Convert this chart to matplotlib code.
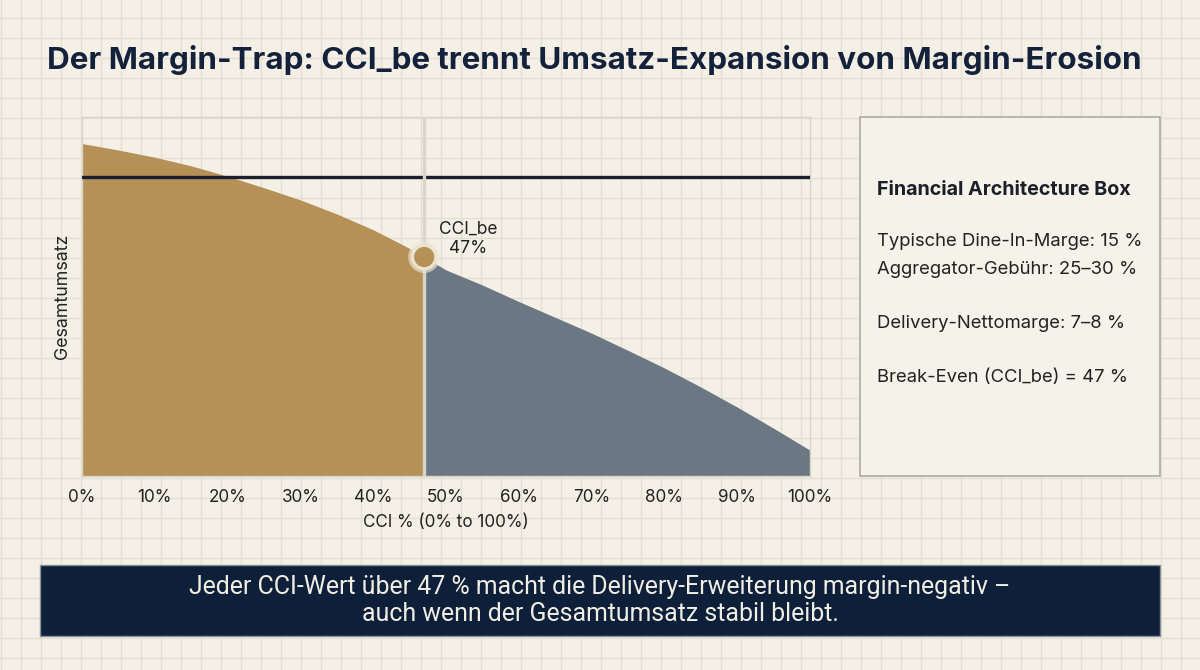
import matplotlib.pyplot as plt
import matplotlib.patches as mpatches
import matplotlib.patheffects as pe
import numpy as np

# data
cci = [0, 5, 10, 15, 20, 25, 30, 35, 40, 45, 47, 50, 55, 60, 65, 70, 75, 80, 85, 90, 95, 100]
umsatz = [92.6, 90.8, 88.8, 86.4, 83.5, 80.3, 76.9, 73.0, 68.6, 63.4, 61.0,
          57.4, 53.2, 48.6, 44.2, 39.8, 35.0, 30.1, 24.8, 19.2, 13.3, 7.2]
cci_be = 47
umsatz_ref = 83.3
x_ticks = [0, 10, 20, 30, 40, 50, 60, 70, 80, 90, 100]
x_tick_labels = [f"{t}%" for t in x_ticks]

box_title = "Financial Architecture Box"
box_lines = [
    ("Typische Dine-In-Marge: 15 %", 242),
    ("Aggregator-Gebühr: 25–30 %", 269),
    ("Delivery-Nettomarge: 7–8 %", 324),
    ("Break-Even (CCI_be) = 47 %", 377),
]
title = "Der Margin-Trap: CCI_be trennt Umsatz-Expansion von Margin-Erosion"
banner = ("Jeder CCI-Wert über 47 % macht die Delivery-Erweiterung margin-negativ –\n"
          "auch wenn der Gesamtumsatz stabil bleibt.")

BG = '#f4f0e6'
GRID = '#e4dfd2'
TAN = '#b59157'
GREY = '#6b7884'
NAVY = '#0e2039'
TXT = '#222222'
FONT = 'Inter'

W, H = 1200, 670
fig = plt.figure(figsize=(12, 6.7), dpi=100, facecolor=BG)

# background paper grid in pixel coordinates
bg = fig.add_axes([0, 0, 1, 1], zorder=0)
bg.set_xlim(0, W)
bg.set_ylim(H, 0)
bg.axis('off')
for gx in np.arange(0.5, W, 20):
    bg.axvline(gx, color=GRID, lw=1.0)
for gy in np.arange(-2, H, 20):
    bg.axhline(gy, color=GRID, lw=1.0)

# info box
bg.add_patch(mpatches.Rectangle((860, 117), 300, 359, facecolor='#f5f2e9',
                                edgecolor='#aeaba2', lw=1.2, zorder=2))
bg.text(877, 190, box_title, fontsize=14.2, fontweight='bold', color='#1b1f27',
        family=FONT, va='center', ha='left', zorder=3)
for txt, y in box_lines:
    bg.text(877, y, txt, fontsize=13.3, color=TXT, family=FONT,
            va='center', ha='left', zorder=3)

# bottom banner
bg.add_patch(mpatches.Rectangle((40, 565), 1120, 71, facecolor=NAVY,
                                edgecolor='#8a8f98', lw=1, zorder=2))
bg.text(600, 600.5, banner, fontsize=17.9, color='#f0ede4', ha='center', va='center',
        family='Roboto', linespacing=1.12, zorder=3)

# title
bg.text(594, 60, title, fontsize=22.6, fontweight='bold', color='#13213a',
        family=FONT, ha='center', va='center', zorder=3)

# main chart
ax = fig.add_axes([82 / W, (H - 476) / H, 728 / W, 359 / H], zorder=1)
ax.patch.set_alpha(0)
ax.set_xlim(0, 100)
ax.set_ylim(0, 100)

x = np.array(cci, dtype=float)
y = np.array(umsatz)
ax.fill_between(x, 0, y, where=x <= cci_be, color=TAN, lw=0, zorder=2)
ax.fill_between(x, 0, y, where=x >= cci_be, color=GREY, lw=0, zorder=2)
ax.axhline(umsatz_ref, color='#1a1f2b', lw=2.4, zorder=3)
ax.axvline(cci_be, color='#dad5ca', lw=2.4, zorder=4)
be_y = umsatz[cci.index(cci_be)]
ax.plot([cci_be], [be_y], 'o', ms=17, color=TAN, mec='#ebe3d0', mew=2.5, zorder=5,
        path_effects=[pe.withStroke(linewidth=6, foreground='#efe8d8', alpha=0.6)])
ax.text(cci_be + 6, be_y + 5, "CCI_be\n47%", fontsize=12.5, color=TXT,
        ha='center', va='center', family=FONT, linespacing=1.2, zorder=6)

ax.set_xticks(x_ticks)
ax.set_xticklabels(x_tick_labels, family=FONT, fontsize=12.3, color=TXT)
ax.set_yticks([])
ax.tick_params(axis='x', length=0, pad=9)
ax.set_xlabel("CCI % (0% to 100%)", family=FONT, fontsize=12.3, color=TXT, labelpad=6)
ax.set_ylabel("Gesamtumsatz", family=FONT, fontsize=12.8, color=TXT, labelpad=8)
for s in ax.spines.values():
    s.set_color('#d9d4c8')
    s.set_linewidth(1)

fig.savefig('out.png', dpi=100, facecolor=BG)
